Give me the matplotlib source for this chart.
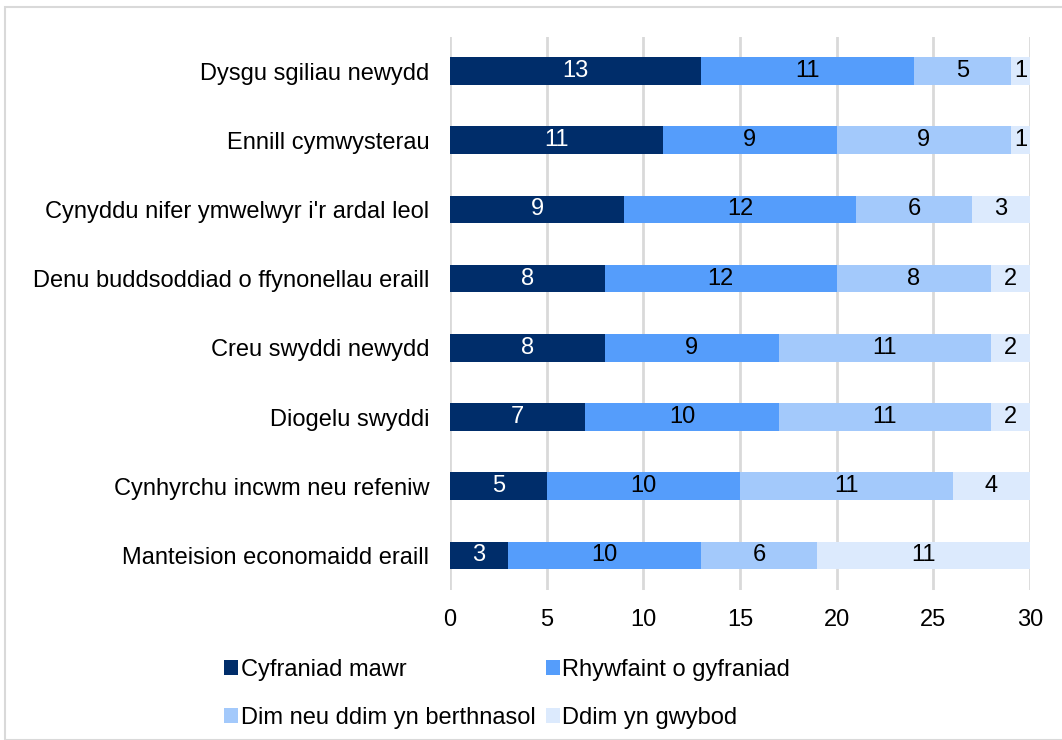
import numpy as np
import matplotlib.pyplot as plt
from matplotlib.patches import Rectangle

plt.rcParams['font.family'] = ['Liberation Sans', 'DejaVu Sans']

categories = ["Dysgu sgiliau newydd", "Ennill cymwysterau",
              "Cynyddu nifer ymwelwyr i'r ardal leol",
              "Denu buddsoddiad o ffynonellau eraill", "Creu swyddi newydd",
              "Diogelu swyddi", "Cynhyrchu incwm neu refeniw",
              "Manteision economaidd eraill"]
series_names = ["Cyfraniad mawr", "Rhywfaint o gyfraniad",
                "Dim neu ddim yn berthnasol", "Ddim yn gwybod"]
cyfraniad_mawr = [13, 11, 9, 8, 8, 7, 5, 3]
rhywfaint = [11, 9, 12, 12, 9, 10, 10, 10]
dim_berthnasol = [5, 9, 6, 8, 11, 11, 11, 6]
ddim_gwybod = [1, 1, 3, 2, 2, 2, 4, 11]
colors = ["#002D6A", "#559DFB", "#A3C9FB", "#DCEAFD"]
text_colors = ["white", "black", "black", "black"]

FS = 17

fig = plt.figure(figsize=(10.62, 7.4), dpi=100)
ax = fig.add_axes([450 / 1062, 1 - 590 / 740, 580 / 1062, 553.5 / 740])

# grey border round the chart
fig.patches.append(Rectangle((5 / 1062, 0), 1.1, 1 - 7 / 740, transform=fig.transFigure,
                             fill=False, edgecolor="#D9D9D9", linewidth=1.5))

y = np.arange(len(categories))
left = np.zeros(len(categories))
handles = []
for vals, name, col, tc in zip([cyfraniad_mawr, rhywfaint, dim_berthnasol, ddim_gwybod],
                               series_names, colors, text_colors):
    bars = ax.barh(y, vals, left=left, height=0.4, color=col, label=name, zorder=3)
    handles.append(bars)
    for yi, l, v in zip(y, left, vals):
        ax.text(l + v / 2, yi, str(v), ha="center", va="center", color=tc,
                fontsize=FS, zorder=4)
    left += np.array(vals)

ax.set_xlim(0, 30)
ax.set_ylim(7.5, -0.5)
ax.set_xticks(range(0, 31, 5))
ax.set_yticks(y)
ax.set_yticklabels(categories, fontsize=FS)
ax.tick_params(axis="x", labelsize=FS, length=0, pad=14)
ax.tick_params(axis="y", length=0, pad=15)
ax.grid(axis="x", color="#D9D9D9", linewidth=2, zorder=0)
for s in ax.spines.values():
    s.set_visible(False)

order = [0, 2, 1, 3]
ax.legend([handles[i] for i in order], [series_names[i] for i in order],
          ncol=2, loc="upper left", bbox_to_anchor=(224 / 1062, 1 - 659 / 740),
          bbox_transform=fig.transFigure, frameon=False, fontsize=FS,
          handlelength=0.6, handleheight=0.6, handletextpad=0.1,
          columnspacing=0.45, borderpad=0, borderaxespad=0, labelspacing=1.1)

fig.savefig("out.png", dpi=100)
